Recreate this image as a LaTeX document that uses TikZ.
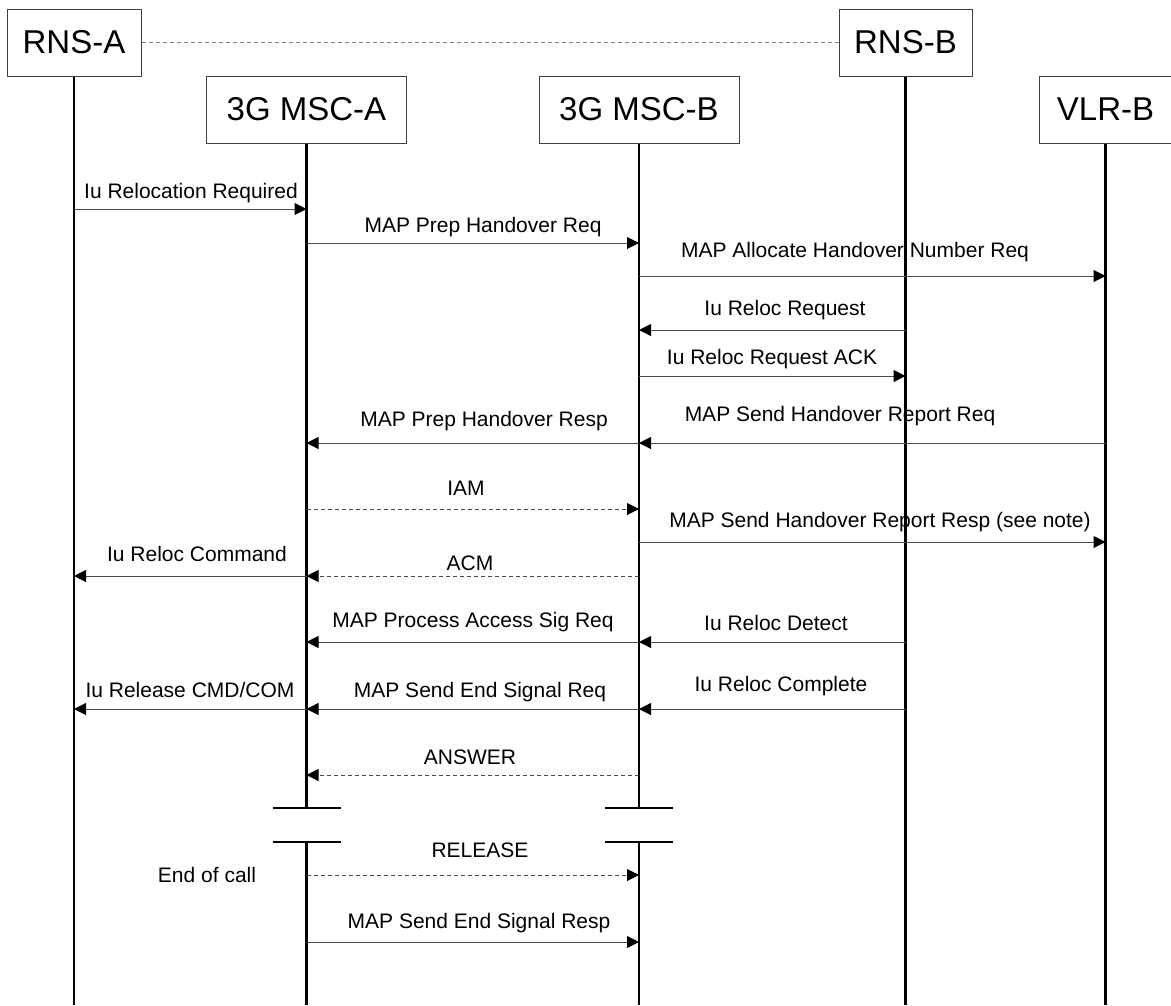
\documentclass[tikz,border=0pt]{standalone}
\usepackage{fontspec}
\setmainfont{Liberation Sans}
\usetikzlibrary{arrows.meta}

\tikzset{
  entity/.style={draw=black!75, line width=1pt, minimum height=67pt, inner sep=0pt,
    font=\fontsize{33}{40}\selectfont},
  lifeline/.style={line width=2.2pt},
  cutmark/.style={line width=2.2pt},
  msg/.style={draw=black!70, line width=1pt, -{Triangle[length=12pt,width=12pt,black]}},
  asyn/.style={msg, dash pattern=on 4pt off 3pt},
  lbl/.style={anchor=base, inner sep=0pt, font=\fontsize{21}{25}\selectfont},
}

\begin{document}
\begin{tikzpicture}[x=1pt,y=-1pt] % handover to 3G MSC-B
   \useasboundingbox (0,0) rectangle (1171,1005);
   \node[entity, minimum width=134pt] (rnsa) at (74,42.5) {RNS-A};
   \node[entity, minimum width=200pt] (msca) at (306.5,109.5) {3G MSC-A};
   \node[entity, minimum width=200pt] (mscb) at (639,109.5) {3G MSC-B};
   \node[entity, minimum width=133pt] (rnsb) at (905.5,42.5) {RNS-B};
   \node[entity, minimum width=133pt] (vlrb) at (1105.5,109.5) {VLR-B};
   \draw[draw=black!50, line width=1pt, dash pattern=on 4pt off 3pt] (rnsa) -- (rnsb);
   \coordinate (bottom) at (0,1005);
   \coordinate (cutA) at (0,808);
   \coordinate (cutB) at (0,842);
   \draw[lifeline] (rnsa.south) -- (rnsa.south |- bottom);
   \draw[lifeline] (msca.south) -- (msca.south |- cutA);
   \draw[lifeline] (msca.south |- cutB) -- (msca.south |- bottom);
   \draw[lifeline] (mscb.south) -- (mscb.south |- cutA);
   \draw[lifeline] (mscb.south |- cutB) -- (mscb.south |- bottom);
   \draw[lifeline] (rnsb.south) -- (rnsb.south |- bottom);
   \draw[lifeline] (vlrb.south) -- (vlrb.south |- bottom);
   \draw[cutmark] (msca.south |- cutA) ++(-34,0) -- ++(68,0);
   \draw[cutmark] (msca.south |- cutB) ++(-34,0) -- ++(68,0);
   \draw[cutmark] (mscb.south |- cutA) ++(-34,0) -- ++(68,0);
   \draw[cutmark] (mscb.south |- cutB) ++(-34,0) -- ++(68,0);
   \draw[msg] (rnsa.south |- 0,209) -- (msca.south |- 0,209);
   \draw[msg] (msca.south |- 0,243) -- (mscb.south |- 0,243);
   \draw[msg] (mscb.south |- 0,276) -- (vlrb.south |- 0,276);
   \draw[msg] (rnsb.south |- 0,330) -- (mscb.south |- 0,330);
   \draw[msg] (mscb.south |- 0,376) -- (rnsb.south |- 0,376);
   \draw[msg] (mscb.south |- 0,443) -- (msca.south |- 0,443);
   \draw[msg] (vlrb.south |- 0,443) -- (mscb.south |- 0,443);
   \draw[asyn] (msca.south |- 0,509) -- (mscb.south |- 0,509);
   \draw[msg] (mscb.south |- 0,542) -- (vlrb.south |- 0,542);
   \draw[msg] (msca.south |- 0,576) -- (rnsa.south |- 0,576);
   \draw[asyn] (mscb.south |- 0,576) -- (msca.south |- 0,576);
   \draw[msg] (mscb.south |- 0,642) -- (msca.south |- 0,642);
   \draw[msg] (rnsb.south |- 0,642) -- (mscb.south |- 0,642);
   \draw[msg] (msca.south |- 0,709) -- (rnsa.south |- 0,709);
   \draw[msg] (mscb.south |- 0,709) -- (msca.south |- 0,709);
   \draw[msg] (rnsb.south |- 0,709) -- (mscb.south |- 0,709);
   \draw[asyn] (mscb.south |- 0,775) -- (msca.south |- 0,775);
   \draw[asyn] (msca.south |- 0,875) -- (mscb.south |- 0,875);
   \draw[msg] (msca.south |- 0,942) -- (mscb.south |- 0,942);
   \node[lbl] (l1) at (191,198) {Iu Relocation Required};
   \node[lbl] (l2) at (483,232) {MAP Prep Handover Req};
   \node[lbl] (l3) at (855,257) {MAP Allocate Handover Number Req};
   \node[lbl] (l4) at (785,315) {Iu Reloc Request};
   \node[lbl] (l5) at (772,364) {Iu Reloc Request ACK};
   \node[lbl] (l6) at (484,426) {MAP Prep Handover Resp};
   \node[lbl] (l7) at (840,421) {MAP Send Handover Report Req};
   \node[lbl] (l8) at (466,495) {IAM};
   \node[lbl] (l9) at (880,527) {MAP Send Handover Report Resp (see note)};
   \node[lbl] (l10) at (197,561) {Iu Reloc Command};
   \node[lbl] (l11) at (470,570) {ACM};
   \node[lbl] (l12) at (473,627) {MAP Process Access Sig Req};
   \node[lbl] (l13) at (776,630) {Iu Reloc Detect};
   \node[lbl] (l14) at (190,697) {Iu Release CMD/COM};
   \node[lbl] (l15) at (480,697) {MAP Send End Signal Req};
   \node[lbl] (l16) at (781,691) {Iu Reloc Complete};
   \node[lbl] (l17) at (470,764) {ANSWER};
   \node[lbl] (l18) at (480,857) {RELEASE};
   \node[lbl] (eoc) at (207,882) {End of call};
   \node[lbl] (l19) at (479,928) {MAP Send End Signal Resp};
\end{tikzpicture}
\end{document}
